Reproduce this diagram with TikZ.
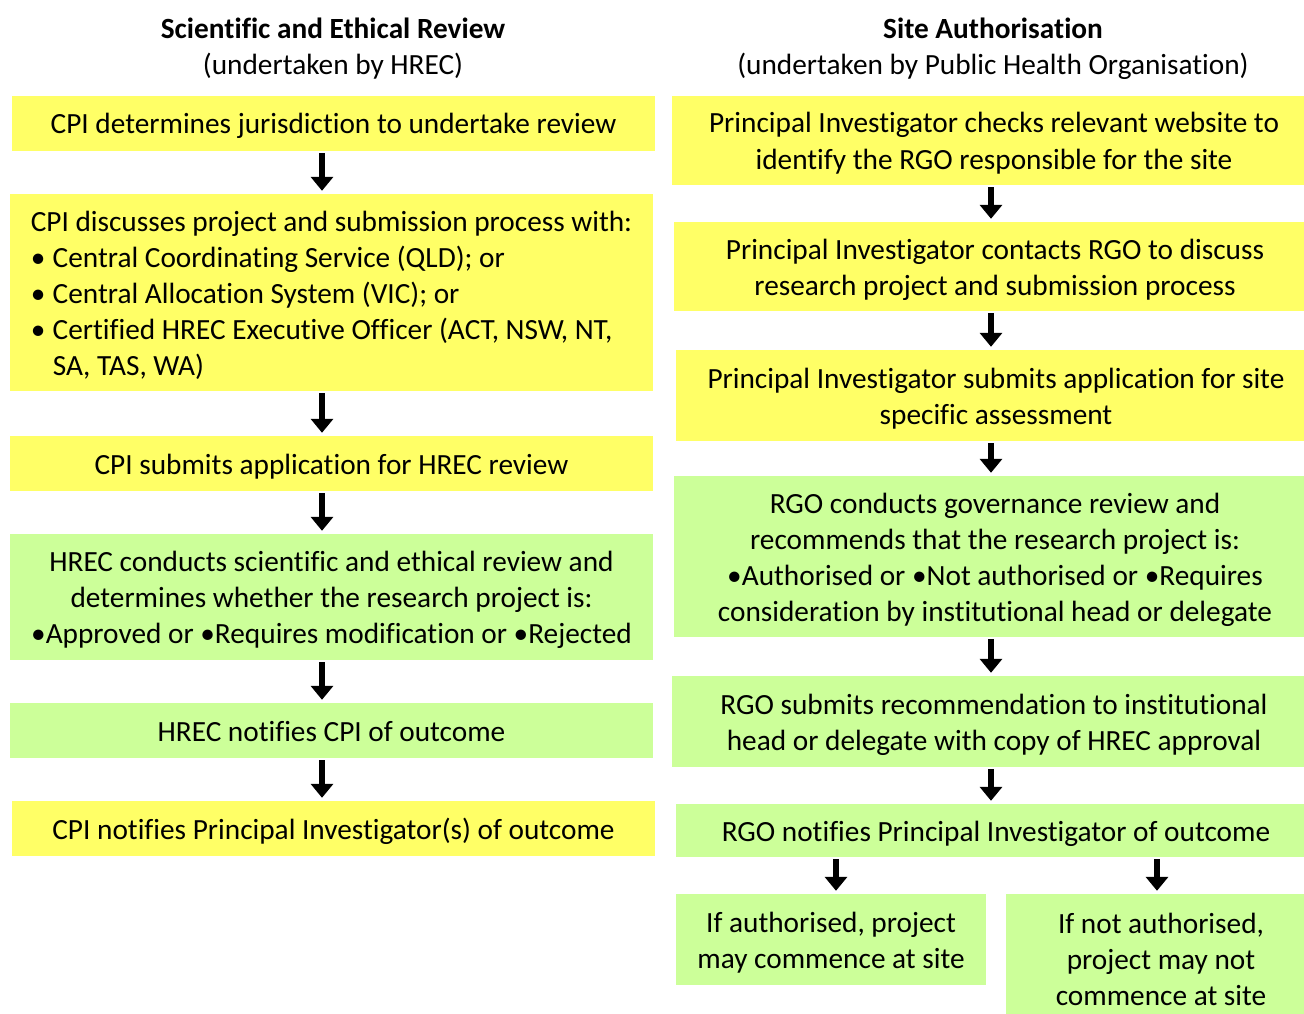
\documentclass[tikz,border=0pt]{standalone}
\usepackage{fontspec}
\setmainfont{Carlito}[Ligatures=NoCommon]
\usetikzlibrary{arrows.meta}
\definecolor{boxyellow}{HTML}{FFFF66}
\definecolor{boxgreen}{HTML}{CCFF99}
\newcommand{\bodyfont}{\fontsize{29.3pt}{36pt}\selectfont}
\newcommand{\ts}{\rule{0pt}{29pt}}
\newcommand{\bs}{\rule[-8pt]{0pt}{8pt}}
\tikzset{
  stepbox/.style={inner sep=0pt, align=center, font=\bodyfont, text=black},
  ybox/.style={stepbox, fill=boxyellow},
  gbox/.style={stepbox, fill=boxgreen},
  flowarrow/.style={line width=6pt, -{Triangle[width=22pt,length=14pt]}, shorten <=2pt, shorten >=3pt},
  heading/.style={align=center, font=\bodyfont, inner sep=0pt}
}
\begin{document}
\begin{tikzpicture}[x=1pt, y=-1pt]
\useasboundingbox (0,0) rectangle (1304,1014);
\clip (0,0) rectangle (1304,1014);
\fill[white] (0,0) rectangle (1304,1014);

% headings
\node[heading] (hl) at (333,46) {\ts\textbf{Scientific and Ethical Review}\\(undertaken by HREC)\bs};
\node[heading] (hr) at (993,46) {\ts\textbf{Site Authorisation}\\(undertaken by Public Health Organisation)\bs};

% arrow axes
\coordinate (axL) at (322,0);
\coordinate (axR) at (991,0);

% left column
\node[ybox, minimum width=643pt, minimum height=55pt] (L1) at (333.5,123.5)
  {\ts CPI determines jurisdiction to undertake review\bs};
\node[ybox, minimum width=643pt, minimum height=197pt, align=left] (L2) at (331.5,292.5)
  {\ts CPI discusses project and submission process with:\\
   \makebox[22pt][l]{•}Central Coordinating Service (QLD); or\\
   \makebox[22pt][l]{•}Central Allocation System (VIC); or\\
   \makebox[22pt][l]{•}Certified HREC Executive Officer (ACT, NSW, NT,\\
   \hspace*{22pt}SA, TAS, WA)\bs};
\node[ybox, minimum width=643pt, minimum height=55pt] (L3) at (331.5,463.5)
  {\ts CPI submits application for HREC review\bs};
\node[gbox, minimum width=643pt, minimum height=126pt] (L4) at (331.5,597)
  {\ts HREC conducts scientific and ethical review and\\
   determines whether the research project is:\\
   •Approved or •Requires modification or •Rejected\bs};
\node[gbox, minimum width=643pt, minimum height=55pt] (L5) at (331.5,730.5)
  {\ts HREC notifies CPI of outcome\bs};
\node[ybox, minimum width=643pt, minimum height=55pt] (L6) at (333.5,828.5)
  {\ts CPI notifies Principal Investigator(s) of outcome\bs};

% right column
\node[ybox, minimum width=644pt, minimum height=89pt] (R1) at (994,140.5)
  {\ts Principal Investigator checks relevant website to\\
   identify the RGO responsible for the site\bs};
\node[ybox, minimum width=642pt, minimum height=89pt] (R2) at (995,266.5)
  {\ts Principal Investigator contacts RGO to discuss\\
   research project and submission process\bs};
\node[ybox, minimum width=640pt, minimum height=91pt] (R3) at (996,395.5)
  {\ts Principal Investigator submits application for site\\
   specific assessment\bs};
\node[gbox, minimum width=642pt, minimum height=161pt] (R4) at (995,556.5)
  {\ts RGO conducts governance review and\\
   recommends that the research project is:\\
   •Authorised or •Not authorised or •Requires\\
   consideration by institutional head or delegate\bs};
\node[gbox, minimum width=644pt, minimum height=91pt] (R5) at (994,721.5)
  {\ts RGO submits recommendation to institutional\\
   head or delegate with copy of HREC approval\bs};
\node[gbox, minimum width=640pt, minimum height=53pt] (R6) at (996,830.5)
  {\ts RGO notifies Principal Investigator of outcome\bs};
\node[gbox, minimum width=310pt, minimum height=91pt] (R7) at (831,939.5)
  {\ts If authorised, project\\ may commence at site\bs};
\node[gbox, minimum width=310pt, minimum height=130pt] (R8) at (1161,959)
  {\ts If not authorised,\\ project may not\\ commence at site\bs};

\coordinate (axA) at (836,0);
\coordinate (axB) at (1157,0);

% left arrows
\draw[flowarrow] (L1.south -| axL) -- (L2.north -| axL);
\draw[flowarrow] (L2.south -| axL) -- (L3.north -| axL);
\draw[flowarrow] (L3.south -| axL) -- (L4.north -| axL);
\draw[flowarrow] (L4.south -| axL) -- (L5.north -| axL);
\draw[flowarrow] (L5.south -| axL) -- (L6.north -| axL);

% right arrows
\draw[flowarrow] (R1.south -| axR) -- (R2.north -| axR);
\draw[flowarrow] (R2.south -| axR) -- (R3.north -| axR);
\draw[flowarrow] (R3.south -| axR) -- (R4.north -| axR);
\draw[flowarrow] (R4.south -| axR) -- (R5.north -| axR);
\draw[flowarrow] (R5.south -| axR) -- (R6.north -| axR);
\draw[flowarrow] (R6.south -| axA) -- (R7.north -| axA);
\draw[flowarrow] (R6.south -| axB) -- (R8.north -| axB);
\end{tikzpicture}
\end{document}
